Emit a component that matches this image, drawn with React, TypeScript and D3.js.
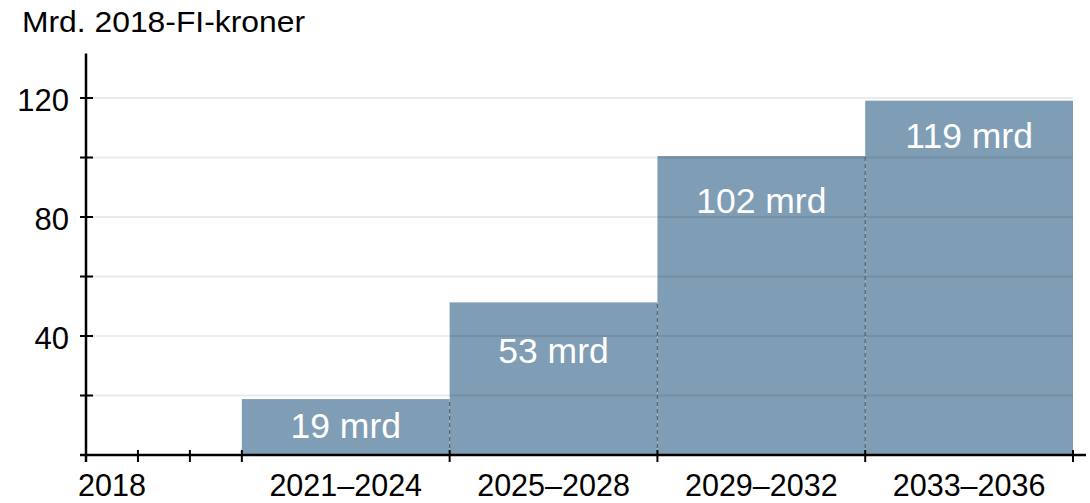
import { useEffect, useRef } from "react";
import * as d3 from "d3";

const periods = ["2021–2024", "2025–2028", "2029–2032", "2033–2036"];
const periodStart = [2021, 2025, 2029, 2033];
const periodEnd = [2025, 2029, 2033, 2037];
const values = [18.8, 51.3, 100.5, 119.1];
const barLabels = ["19 mrd", "53 mrd", "102 mrd", "119 mrd"];
const labelAt = [5.7, 30.9, 81.5, 103.2];
const yearTicks = [2018, 2019, 2020, 2021, 2025, 2029, 2033, 2037];
const yTicks = [20, 40, 60, 80, 100, 120];
const yLabels = [40, 80, 120];

const FONT = "'Liberation Sans', Arial, Helvetica, sans-serif";

const App = () => {
  const chartRef = useRef<SVGSVGElement | null>(null);

  useEffect(() => {
    const width = 1090;
    const height = 503;
    const svg = d3.select(chartRef.current);
    svg.selectAll("*").remove();
    svg.attr("width", width).attr("height", height);

    const x = d3.scaleLinear().domain([2018, 2037]).range([86, 1073]);
    const y = d3.scaleLinear().domain([0, 135]).range([455, 53.4]);

    // bars
    svg
      .selectAll("rect.bar")
      .data(values)
      .enter()
      .append("rect")
      .attr("class", "bar")
      .attr("x", (_, i) => x(periodStart[i]))
      .attr("y", (d) => y(d))
      .attr("width", (_, i) => x(periodEnd[i]) - x(periodStart[i]))
      .attr("height", (d) => y(0) - y(d))
      .attr("fill", "#7f9db4");

    // gridlines, on top of the bars
    svg
      .selectAll("line.grid")
      .data(yTicks)
      .enter()
      .append("line")
      .attr("x1", 87)
      .attr("x2", 1073)
      .attr("y1", (d) => y(d))
      .attr("y2", (d) => y(d))
      .attr("stroke", "rgba(0,0,0,0.08)")
      .attr("stroke-width", 2);

    // dashed dividers between the periods
    svg
      .selectAll("line.div")
      .data(values.slice(1))
      .enter()
      .append("line")
      .attr("x1", (_, i) => x(periodStart[i + 1]))
      .attr("x2", (_, i) => x(periodStart[i + 1]))
      .attr("y1", y(0))
      .attr("y2", (d, i) => y(Math.min(d, values[i])))
      .attr("stroke", "#4a4f57")
      .attr("stroke-opacity", 0.8)
      .attr("stroke-width", 1.2)
      .attr("stroke-dasharray", "4,3");

    // bar labels
    svg
      .selectAll("text.bl")
      .data(barLabels)
      .enter()
      .append("text")
      .attr("x", (_, i) => (x(periodStart[i]) + x(periodEnd[i])) / 2)
      .attr("y", (_, i) => y(labelAt[i]))
      .attr("text-anchor", "middle")
      .attr("fill", "#ffffff")
      .style("font-family", FONT)
      .style("font-size", "35.5px")
      .text((d) => d);

    // x axis
    svg
      .append("line")
      .attr("x1", 80)
      .attr("x2", 1086)
      .attr("y1", y(0))
      .attr("y2", y(0))
      .attr("stroke", "#000")
      .attr("stroke-width", 2.5);

    svg
      .selectAll("line.xt")
      .data(yearTicks)
      .enter()
      .append("line")
      .attr("x1", (d) => x(d))
      .attr("x2", (d) => x(d))
      .attr("y1", y(0) - 5)
      .attr("y2", y(0) + 7)
      .attr("stroke", "#000")
      .attr("stroke-width", 2);

    svg
      .append("text")
      .attr("x", (x(2018) + x(2019)) / 2)
      .attr("y", 496)
      .attr("text-anchor", "middle")
      .style("font-family", FONT)
      .style("font-size", "30.5px")
      .text("2018");

    svg
      .selectAll("text.xl")
      .data(periods)
      .enter()
      .append("text")
      .attr("x", (_, i) => (x(periodStart[i]) + x(periodEnd[i])) / 2)
      .attr("y", 496)
      .attr("text-anchor", "middle")
      .style("font-family", FONT)
      .style("font-size", "30.5px")
      .text((d) => d);

    // y axis
    svg
      .append("line")
      .attr("x1", 86)
      .attr("x2", 86)
      .attr("y1", y(135))
      .attr("y2", y(0) + 7)
      .attr("stroke", "#000")
      .attr("stroke-width", 2.5);

    svg
      .selectAll("line.yt")
      .data(yTicks)
      .enter()
      .append("line")
      .attr("x1", 80)
      .attr("x2", 93)
      .attr("y1", (d) => y(d))
      .attr("y2", (d) => y(d))
      .attr("stroke", "#000")
      .attr("stroke-width", 2);

    svg
      .selectAll("text.yl")
      .data(yLabels)
      .enter()
      .append("text")
      .attr("x", 69)
      .attr("y", (d) => y(d) + 13)
      .attr("text-anchor", "end")
      .style("font-family", FONT)
      .style("font-size", "31px")
      .text((d) => d);

    // unit title
    svg
      .append("text")
      .attr("x", 22)
      .attr("y", 32)
      .style("font-family", FONT)
      .style("font-size", "29.5px")
      .attr("textLength", 283)
      .attr("lengthAdjust", "spacingAndGlyphs")
      .text("Mrd. 2018-FI-kroner");
  }, []);

  return (
    <svg
      ref={chartRef}
      style={{ position: "absolute", left: 0, top: 0, background: "#fff" }}
    ></svg>
  );
};

export default App;
